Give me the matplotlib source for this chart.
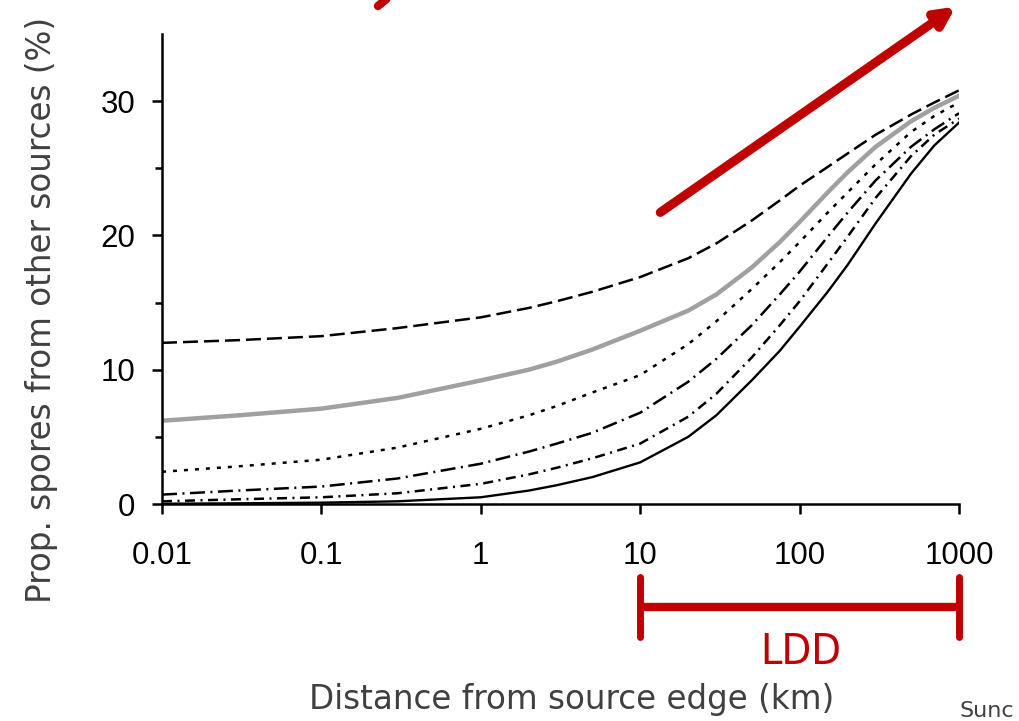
import numpy as np
import matplotlib
matplotlib.use("Agg")
import matplotlib.pyplot as plt
from matplotlib.transforms import blended_transform_factory

# distance from source edge (km)
distance = [0.01, 0.03, 0.1, 0.3, 1, 2, 3, 5, 10, 20, 30, 50, 75, 100, 150, 200, 300, 500, 700, 1000]

# proportion of spores from other sources (%), one list per curve
long_dash = [12.0, 12.2, 12.5, 13.1, 13.9, 14.6, 15.1, 15.8, 16.9, 18.3, 19.4, 21.1, 22.6, 23.7,
             25.1, 26.1, 27.5, 29.0, 29.9, 30.8]
gray_line = [6.2, 6.6, 7.1, 7.9, 9.2, 10.0, 10.6, 11.5, 12.9, 14.4, 15.6, 17.6, 19.5, 21.0,
             23.2, 24.7, 26.6, 28.5, 29.5, 30.4]
short_dash = [2.4, 2.8, 3.3, 4.2, 5.6, 6.6, 7.3, 8.3, 9.6, 11.9, 13.6, 16.0, 18.0, 19.5,
              21.7, 23.2, 25.3, 27.7, 28.9, 29.9]
dash_dot = [0.7, 1.0, 1.3, 1.9, 3.0, 3.9, 4.5, 5.3, 6.8, 9.1, 10.8, 13.3, 15.6, 17.3,
            19.9, 21.7, 24.1, 26.6, 27.9, 29.1]
dash_dot_short = [0.2, 0.35, 0.5, 0.8, 1.5, 2.2, 2.7, 3.4, 4.5, 6.5, 8.2, 10.9, 13.3, 15.1,
                  17.9, 19.9, 22.8, 25.9, 27.5, 28.7]
solid = [0.02, 0.05, 0.1, 0.2, 0.5, 1.0, 1.4, 2.0, 3.1, 5.0, 6.6, 9.2, 11.4, 13.2,
         15.8, 17.8, 20.9, 24.6, 26.7, 28.4]

x_ticks = [0.01, 0.1, 1, 10, 100, 1000]
x_tick_labels = ['0.01', '0.1', '1', '10', '100', '1000']
y_ticks = [0, 10, 20, 30]

red = '#C00000'
txt_gray = '#404040'

fig = plt.figure(figsize=(10.2, 7.21), dpi=100)
ax = fig.add_axes([162 / 1020, 1 - 504 / 721, (959 - 162) / 1020, (504 - 34) / 721])

ax.plot(distance, long_dash, color='black', lw=1.8, dashes=(6, 2.4))
ax.plot(distance, gray_line, color='#a0a0a0', lw=3.2)
ax.plot(distance, short_dash, color='black', lw=1.8, dashes=(1.6, 2.8))
ax.plot(distance, dash_dot, color='black', lw=1.8, dashes=(6, 2.2, 0.8, 2.2))
ax.plot(distance, dash_dot_short, color='black', lw=1.8, dashes=(4, 2.2, 0.8, 2.2))
ax.plot(distance, solid, color='black', lw=1.7)

ax.set_xscale('log')
ax.set_xlim(0.01, 1000)
ax.set_ylim(0, 35)
ax.set_xticks(x_ticks)
ax.set_xticklabels(x_tick_labels)
ax.xaxis.set_minor_locator(matplotlib.ticker.NullLocator())
ax.set_yticks(y_ticks)
ax.set_yticks([5, 15, 25], minor=True)
for s in ['top', 'right']:
    ax.spines[s].set_visible(False)
for s in ['left', 'bottom']:
    ax.spines[s].set_linewidth(1.8)
ax.tick_params(axis='both', which='major', direction='out', length=7, width=1.8,
               labelsize=22.5, colors='black')
ax.tick_params(axis='y', which='minor', direction='out', length=5, width=1.8)
ax.tick_params(axis='x', pad=20)
ax.tick_params(axis='y', pad=12)
for lab in ax.get_xticklabels() + ax.get_yticklabels():
    lab.set_family('Liberation Sans')

# LDD bracket under the x axis, spanning 10..1000 km
tr = blended_transform_factory(ax.transData, fig.transFigure)
yb = 1 - 607 / 721
ax.plot([10, 1000], [yb, yb], color=red, lw=6, transform=tr, clip_on=False,
        solid_capstyle='butt')
for xv in [10, 1000]:
    ax.plot([xv, xv], [1 - 577 / 721, 1 - 637 / 721], color=red, lw=5, transform=tr,
            clip_on=False, solid_capstyle='round')
fig.text(801 / 1020, 1 - 652 / 721, 'LDD', color=red, fontsize=31, ha='center',
         va='center', family='DejaVu Sans', fontstretch='condensed')

# trend arrow
ax.annotate('', xy=(958 / 1020, 1 - 5 / 721), xycoords='figure fraction',
            xytext=(658 / 1020, 1 - 214 / 721), textcoords='figure fraction',
            arrowprops=dict(arrowstyle='-|>,head_length=1.1,head_width=0.55',
                            color=red, lw=6.5, capstyle='round'))
fig.add_artist(plt.Line2D([378 / 1020, 390 / 1020], [1 - 6 / 721, 1 + 4 / 721],
                          color=red, lw=6, solid_capstyle='round'))

fig.text(42 / 1020, 1 - 310 / 721, 'Prop. spores from other sources (%)', rotation=90,
         color=txt_gray, fontsize=23.5, ha='center', va='center', family='DejaVu Sans')
fig.text(572 / 1020, 1 - 700 / 721, 'Distance from source edge (km)',
         color=txt_gray, fontsize=23.5, ha='center', va='center', family='DejaVu Sans')
fig.text(960 / 1020, 1 - 711 / 721, 'Sunc', color=txt_gray, fontsize=16,
         ha='left', va='center', family='DejaVu Sans')

fig.savefig('out.png', dpi=100)
